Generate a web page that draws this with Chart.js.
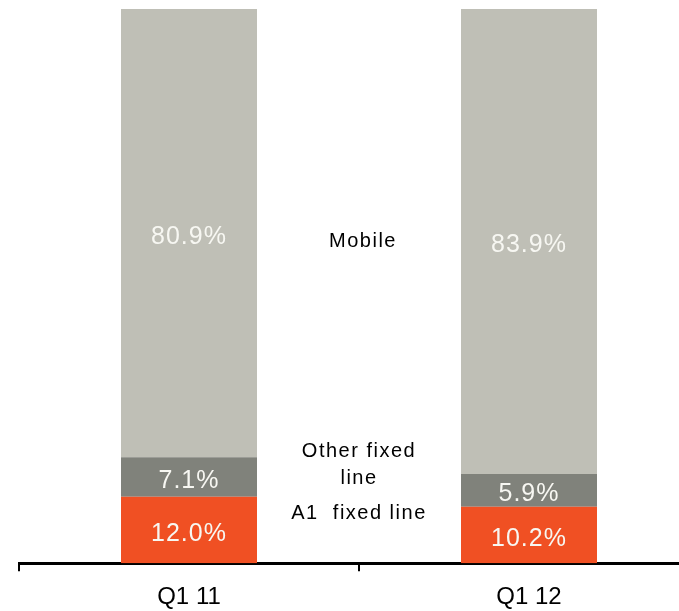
<!DOCTYPE html>
<html>
<head>
<meta charset="utf-8">
<script src="https://cdn.jsdelivr.net/npm/chart.js@4.4.0/dist/chart.umd.min.js"></script>
<style>
  html, body { margin: 0; padding: 0; background: #ffffff; overflow: hidden; }
  #wrap { position: relative; width: 720px; height: 624px; }
</style>
</head>
<body>
<div id="wrap"><canvas id="chartCanvas"></canvas></div>
<script>
// dados do gráfico
const categories = ['Q1 11', 'Q1 12'];
const a1Fixed = [12.0, 10.2];
const otherFixed = [7.1, 5.9];
const mobile = [80.9, 83.9];
const seriesNames = ['A1  fixed line', 'Other fixed line', 'Mobile'];

// textos no meio, entre as barras (valor no eixo y)
const middleLabels = [
    { lines: ['Mobile'], at: 58.0, dx: 4 },
    { lines: ['Other fixed', 'line'], at: 17.8, dx: 0 },
    { lines: ['A1  fixed line'], at: 9.0, dx: 0 }
];

const valueLabels = {
    id: 'valueLabels',
    afterDatasetsDraw(chart) {
        const ctx = chart.ctx;
        ctx.save();
        ctx.fillStyle = '#f7f7f2';
        ctx.font = '25px "Liberation Sans", Arial, sans-serif';
        ctx.letterSpacing = '1px';
        ctx.textAlign = 'center';
        ctx.textBaseline = 'middle';
        chart.data.datasets.forEach((ds, i) => {
            chart.getDatasetMeta(i).data.forEach((bar, j) => {
                const p = bar.getProps(['x', 'y', 'base'], true);
                ctx.fillText(ds.data[j].toFixed(1) + '%', p.x, (p.y + p.base) / 2 + 4);
            });
        });
        ctx.restore();
    }
};

const middleText = {
    id: 'middleText',
    afterDraw(chart) {
        const ctx = chart.ctx;
        const xs = chart.scales.x;
        const ys = chart.scales.y;
        const cx = (xs.getPixelForValue(0) + xs.getPixelForValue(1)) / 2;
        ctx.save();
        ctx.fillStyle = '#000000';
        ctx.font = '20px "Liberation Sans", Arial, sans-serif';
        ctx.letterSpacing = '1.5px';
        ctx.textAlign = 'center';
        ctx.textBaseline = 'middle';
        middleLabels.forEach(l => {
            const cy = ys.getPixelForValue(l.at);
            const lh = 27;
            const top = cy - (l.lines.length - 1) * lh / 2;
            l.lines.forEach((t, k) => ctx.fillText(t, cx + l.dx, top + k * lh));
        });
        ctx.restore();
    }
};

const ctx = document.getElementById('chartCanvas').getContext('2d');
const chart = new Chart(ctx, {
    type: 'bar',
    data: {
        labels: categories,
        datasets: [
            { label: seriesNames[0], data: a1Fixed, backgroundColor: '#f05023' },
            { label: seriesNames[1], data: otherFixed, backgroundColor: '#80827b' },
            { label: seriesNames[2], data: mobile, backgroundColor: '#bfbfb6' }
        ]
    },
    options: {
        responsive: true,
        maintainAspectRatio: false,
        animation: false,
        layout: { padding: { top: 9, left: 19, right: 21, bottom: 0 } },
        plugins: {
            legend: { display: false },
            tooltip: { enabled: false }
        },
        datasets: {
            bar: { barPercentage: 0.4, categoryPercentage: 1.0, borderWidth: 0 }
        },
        scales: {
            x: {
                stacked: true,
                grid: {
                    offset: true,
                    drawOnChartArea: false,
                    drawTicks: true,
                    tickLength: 8,
                    color: '#000000',
                    lineWidth: 2
                },
                border: { display: true, color: '#000000', width: 3 },
                ticks: {
                    color: '#000000',
                    padding: 12,
                    font: { family: '"Liberation Sans", Arial, sans-serif', size: 24 }
                }
            },
            y: {
                stacked: true,
                display: false,
                min: 0,
                max: 100
            }
        }
    },
    plugins: [valueLabels, middleText]
});
</script>
</body>
</html>
